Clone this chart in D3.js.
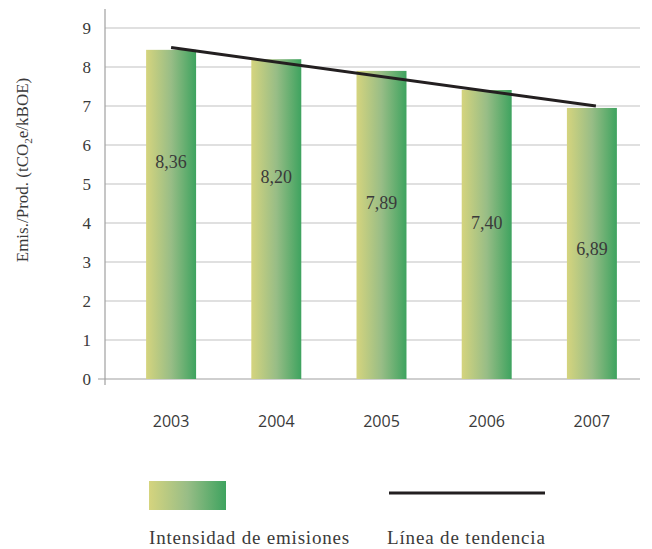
<!DOCTYPE html>
<html><head><meta charset="utf-8">
<script src="https://cdn.jsdelivr.net/npm/d3@7/dist/d3.min.js"></script>
<style>body{margin:0;background:#fff}svg{display:block}</style>
</head><body>
<svg id="c" width="652" height="549"></svg>
<script>
const years = ["2003","2004","2005","2006","2007"];
const barValues = [8.44, 8.20, 7.90, 7.41, 6.95];
const barLabels = ["8,36","8,20","7,89","7,40","6,89"];
const labelHeights = [5.56, 5.18, 4.51, 4.00, 3.33];
const trendValues = [8.50, 7.00];
const yTicks = [0,1,2,3,4,5,6,7,8,9];
const legendLabels = ["Intensidad de emisiones","Línea de tendencia"];

const svg = d3.select("#c");
const serif = "'Liberation Serif','DejaVu Serif',serif";
const sans = "'Open Sans','Liberation Sans',sans-serif";

const y = d3.scaleLinear().domain([0,9]).range([379,28]);
const x = d3.scaleBand().domain(years).range([118.5,644.5]).paddingInner(0.525).paddingOuter(0.2625);

const defs = svg.append("defs");
const g = defs.append("linearGradient").attr("id","bg").attr("x1","0").attr("x2","1").attr("y1","0").attr("y2","0");
g.append("stop").attr("offset","0").attr("stop-color","#d5d47e");
g.append("stop").attr("offset","0.5").attr("stop-color","#98bd86");
g.append("stop").attr("offset","1").attr("stop-color","#3ea35f");

// gridlines
svg.append("g").selectAll("line").data(yTicks.filter(d=>d>0)).join("line")
  .attr("x1",105).attr("x2",640).attr("y1",d=>y(d)).attr("y2",d=>y(d))
  .attr("stroke","#d6d6d6").attr("stroke-width",1.5);

// y axis
const ya = svg.append("g").attr("transform","translate(105,0)")
  .call(d3.axisLeft(y).tickValues(yTicks).tickSize(0).tickPadding(14).tickFormat(d3.format("d")));
ya.select(".domain").remove();
ya.attr("font-family",serif).attr("font-size",17);
ya.selectAll("text").attr("fill","#3a3a3a");
svg.append("line").attr("x1",105).attr("x2",105).attr("y1",9).attr("y2",385).attr("stroke","#a0a0a0").attr("stroke-width",1.2);
svg.append("line").attr("x1",98).attr("x2",640).attr("y1",379).attr("y2",379).attr("stroke","#a0a0a0").attr("stroke-width",1.2);

// x axis labels
const xa = svg.append("g").attr("transform","translate(0,379)")
  .call(d3.axisBottom(x).tickSize(0).tickPadding(37));
xa.select(".domain").remove();
xa.attr("font-family",sans).attr("font-size",16);
xa.selectAll("text").attr("fill","#3a3a3a");

// bars
svg.append("g").selectAll("rect").data(years).join("rect")
  .attr("x",d=>x(d)).attr("width",x.bandwidth())
  .attr("y",(d,i)=>y(barValues[i])).attr("height",(d,i)=>y(0)-y(barValues[i]))
  .attr("fill","url(#bg)");

// labels
svg.append("g").selectAll("text").data(years).join("text")
  .attr("x",d=>x(d)+x.bandwidth()/2).attr("y",(d,i)=>y(labelHeights[i]))
  .attr("dy","0.35em").attr("text-anchor","middle")
  .attr("font-family",serif).attr("font-size",18).attr("fill","#3a3a3a")
  .text((d,i)=>barLabels[i]);

// trend line
const tx = [years[0], years[years.length-1]];
svg.append("line")
  .attr("x1",x(tx[0])+x.bandwidth()/2).attr("y1",y(trendValues[0]))
  .attr("x2",x(tx[1])+x.bandwidth()/2+4).attr("y2",y(trendValues[1]))
  .attr("stroke","#231f20").attr("stroke-width",3);

// y title
const t = svg.append("text").attr("transform","translate(22,170) rotate(-90)")
  .attr("text-anchor","middle").attr("dy","0.35em")
  .attr("font-family",serif).attr("font-size",17).attr("fill","#3a3a3a");
t.append("tspan").text("Emis./Prod. (tCO");
t.append("tspan").attr("font-size",11).attr("dy","4").text("2");
t.append("tspan").attr("dy","-4").text("e/kBOE)");

// legend
svg.append("rect").attr("x",149).attr("y",481).attr("width",77).attr("height",29).attr("fill","url(#bg)");
svg.append("line").attr("x1",389).attr("x2",545).attr("y1",493).attr("y2",493).attr("stroke","#231f20").attr("stroke-width",3);
svg.append("text").attr("x",149).attr("y",544).attr("font-family",serif).attr("font-size",19).attr("letter-spacing",0.8).attr("fill","#3a3a3a").text(legendLabels[0]);
svg.append("text").attr("x",387).attr("y",544).attr("font-family",serif).attr("font-size",19).attr("letter-spacing",0.85).attr("fill","#3a3a3a").text(legendLabels[1]);
</script>
</body></html>
